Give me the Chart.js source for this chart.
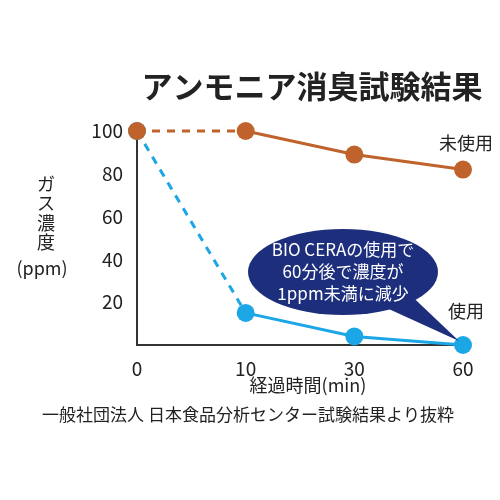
<!DOCTYPE html>
<html><head><meta charset="utf-8">
<script src="https://cdn.jsdelivr.net/npm/chart.js@4"></script>
<style>html,body{margin:0;padding:0;background:#fff}#w{width:500px;height:500px}</style>
</head><body><div id="w"><canvas id="c" width="500" height="500"></canvas></div>
<script>
const categories = ['0','10','30','60'];
const unusedValues = [100, 100, 89, 82];
const usedValues = [100, 15, 4, 0];
const yTicks = [20, 40, 60, 80, 100];
const F = '"Noto Sans CJK JP","Noto Sans",sans-serif';
const orange = '#c0622b', blue = '#1ba6e6', navy = '#1d2f7c';

const dashFirst = {borderDash: ctx => ctx.p0DataIndex === 0 ? [8, 7] : undefined};

const textPlugin = {
  id: 'texts',
  afterDatasetsDraw(chart) {
    const c = chart.ctx, xs = chart.scales.x, ys = chart.scales.y;
    c.save();
    const tx = xs.getPixelForValue(3), ty = ys.getPixelForValue(usedValues[3]);
    const cx = 343, cy = 272;
    c.fillStyle = navy;
    c.beginPath(); c.moveTo(400, 285); c.lineTo(tx - 4, ty - 4); c.lineTo(380, 305); c.closePath(); c.fill();
    c.beginPath(); c.ellipse(cx, cy, 95, 43, 0, 0, Math.PI * 2); c.fill();
    c.fillStyle = '#fff'; c.textAlign = 'center'; c.textBaseline = 'middle';
    c.font = '17px ' + F;
    c.fillText('BIO CERAの使用で', cx, cy - 22);
    c.fillText('60分後で濃度が', cx, cy);
    c.fillText('1ppm未満に減少', cx, cy + 22);
    c.fillStyle = '#222';
    c.font = 'bold 31px ' + F;
    c.fillText('アンモニア消臭試験結果', 312, 86);
    c.font = '18px ' + F;
    c.fillText('未使用', 466, 143);
    c.fillText('使用', 466, 311);
    const yt = ['ガ', 'ス', '濃', '度'];
    yt.forEach((ch, i) => c.fillText(ch, 46, 184 + i * 19.5));
    c.fillText('(ppm)', 42, 268);
    c.fillText('経過時間(min)', 308, 385);
    c.font = '17px ' + F;
    c.fillText('一般社団法人 日本食品分析センター試験結果より抜粋', 248, 415);
    c.restore();
  }
};

new Chart(document.getElementById('c'), {
  type: 'line',
  data: {
    labels: categories,
    datasets: [
      {data: unusedValues, borderColor: orange, backgroundColor: orange, borderWidth: 3, pointRadius: 9, pointBorderWidth: 0, segment: dashFirst},
      {data: usedValues, borderColor: blue, backgroundColor: blue, borderWidth: 3, pointRadius: 9, pointBorderWidth: 0, segment: dashFirst}
    ]
  },
  options: {
    responsive: false, animation: false, clip: false,
    layout: {padding: {top: 131, right: 37, left: 0, bottom: 0}},
    plugins: {legend: {display: false}, tooltip: {enabled: false}},
    scales: {
      x: {
        offset: false,
        grid: {display: false, drawTicks: false},
        border: {display: true, color: '#333', width: 2},
        ticks: {color: '#222', font: {size: 19, family: F}, padding: 12, maxRotation: 0},
        afterFit: s => { s.height = 155; }
      },
      y: {
        min: 0, max: 100,
        afterBuildTicks: s => { s.ticks = yTicks.map(v => ({value: v})); },
        grid: {display: false, drawTicks: false},
        border: {display: true, color: '#333', width: 2},
        ticks: {color: '#222', font: {size: 19, family: F}, padding: 14},
        afterFit: s => { s.width = 137; }
      }
    }
  },
  plugins: [textPlugin]
});
</script></body></html>
